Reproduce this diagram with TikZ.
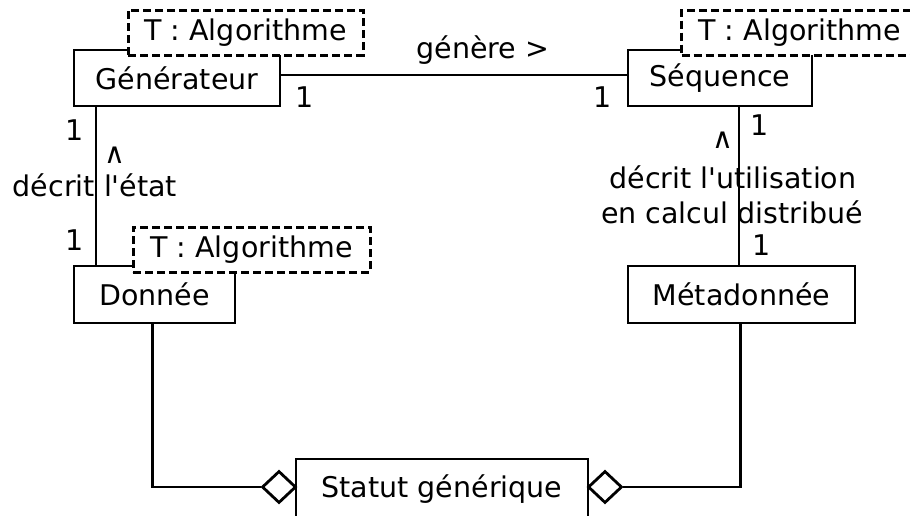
\documentclass[tikz,border=0pt]{standalone}
\usepackage{fontspec}
\newfontfamily\dejavu{DejaVu Sans}
\usetikzlibrary{shapes.geometric}
\begin{document}
\begin{tikzpicture}[x=1pt,y=-1pt,
 every node/.style={font=\dejavu\fontsize{28.5}{32}\selectfont, inner sep=0pt},
 cls/.style={draw, line width=2.4pt, fill=white},
 tmpl/.style={draw, line width=3pt, dash pattern=on 8pt off 4pt, fill=white},
 conn/.style={line width=2.4pt},
 agg/.style={draw, diamond, line width=2.8pt, fill=white, minimum width=34pt, minimum height=32pt, inner sep=0pt}]
\clip (0,0) rectangle (910,515);
\fill[white] (0,0) rectangle (910,515);
% classes
\node[cls, minimum width=206pt, minimum height=56pt] (gen) at (177,78) {Générateur};
\node[cls, minimum width=184pt, minimum height=56pt] (seq) at (720,78) {Séquence};
\node[cls, minimum width=161pt, minimum height=57pt] (don) at (154.5,294.5) {Donnée};
\node[cls, minimum width=227pt, minimum height=57pt] (meta) at (741.5,294.5) {Métadonnée};
\node[cls, minimum width=292pt, minimum height=60pt] (stat) at (442,489) {Statut générique};
% templates
\node[tmpl, minimum width=235pt, minimum height=45pt] (tgen) at (245.5,32.5) {T : Algorithme};
\node[tmpl, anchor=west, inner xsep=17pt, minimum height=45pt] (tseq) at (680,32.5) {T : Algorithme};
\node[tmpl, minimum width=237pt, minimum height=45pt] (tdon) at (251.5,249.5) {T : Algorithme};
% aggregation diamonds
\node[agg] (dl) at (279,487) {};
\node[agg] (dr) at (605,487) {};
% connectors
\draw[conn] ([yshift=3pt]gen.east) -- ([yshift=3pt]seq.west);
\draw[conn] ([xshift=23pt]gen.south west) -- ([xshift=23pt]don.north west);
\draw[conn] ([xshift=112pt]seq.south west) -- ([xshift=112pt]meta.north west);
\draw[conn] ([xshift=-2pt]don.south) |- (dl.west);
\draw[conn] ([xshift=-1pt]meta.south) |- (dr.east);
% labels
\node (lgen) at (483,50) {génère >};
\node (m1) at (305,97) {1};
\node (m2) at (603,97) {1};
\node (m3) at (75,130) {1};
\node (m4) at (75,240) {1};
\node (m5) at (760,125) {1};
\node (m6) at (762,245) {1};
\node (a1) at (115,155) {∧};
\node (a2) at (723,140) {∧};
\node (l1) at (95,185) {décrit l'état};
\node (l2) at (733,177) {décrit l'utilisation};
\node (l3) at (732,212) {en calcul distribué};
\end{tikzpicture}
\end{document}
